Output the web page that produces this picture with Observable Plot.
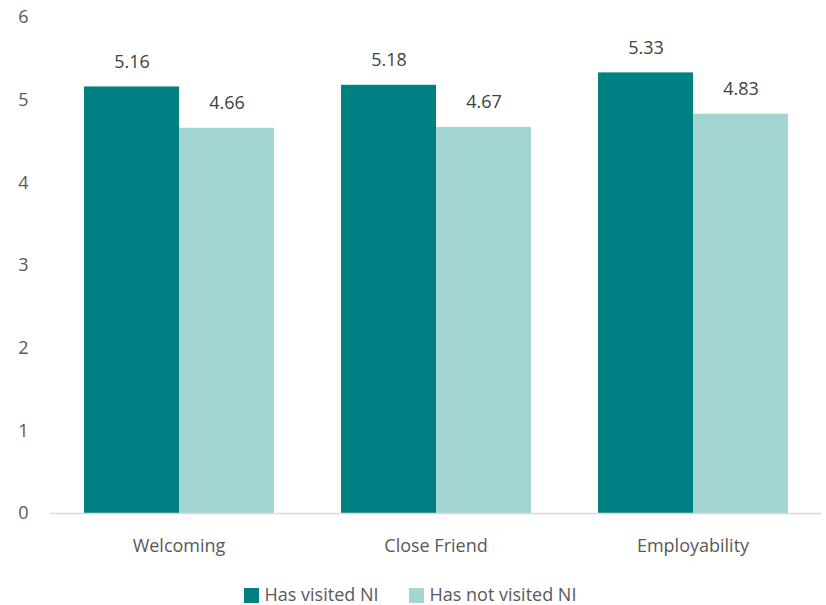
<!DOCTYPE html>
<html>
<head>
<meta charset="utf-8">
<script src="https://cdn.jsdelivr.net/npm/d3@7"></script>
<script src="https://cdn.jsdelivr.net/npm/@observablehq/plot@0.6"></script>
<style>
  html, body { margin: 0; background: #fff; font-family: "Open Sans", sans-serif; overflow: hidden; }
  #chart svg { display: block; }
  .legend { display: flex; justify-content: center; gap: 30px; font-size: 18px; line-height: 20px; color: #595959; height: 20px; align-items: center; margin-left: -6px; margin-top: 6px; }
  .legend span.sw { display: inline-block; width: 15px; height: 15px; margin-right: 6px; vertical-align: -2px; }
</style>
</head>
<body>
<div id="chart"></div>
<div class="legend">
  <div><span class="sw" style="background:#008080"></span>Has visited NI</div>
  <div><span class="sw" style="background:#a3d5d3"></span>Has not visited NI</div>
</div>
<script>
const categories = ["Welcoming", "Close Friend", "Employability"];
const seriesNames = ["Has visited NI", "Has not visited NI"];
const visited = [5.16, 5.18, 5.33];
const notVisited = [4.66, 4.67, 4.83];
const yTicks = [0, 1, 2, 3, 4, 5, 6];
const colors = ["#008080", "#a3d5d3"];

const data = [];
categories.forEach((c, i) => {
  data.push({category: c, series: seriesNames[0], value: visited[i]});
  data.push({category: c, series: seriesNames[1], value: notVisited[i]});
});

const chart = Plot.plot({
  width: 826,
  height: 578,
  marginTop: 17,
  marginBottom: 65,
  marginLeft: 49,
  marginRight: 5,
  style: {fontFamily: "Open Sans, sans-serif", color: "#595959", background: "#fff", fontSize: "18px"},
  fx: {domain: categories, padding: 0, axis: "bottom", label: null, tickSize: 0, tickPadding: 26},
  x: {domain: seriesNames, axis: null, paddingInner: 0, paddingOuter: 0.345},
  y: {domain: [0, 6], ticks: yTicks, label: null, tickSize: 0, tickPadding: 22, tickFormat: d => String(d)},
  color: {domain: seriesNames, range: colors},
  marks: [
    Plot.barY(data, {fx: "category", x: "series", y: "value", fill: "series"}),
    Plot.ruleY([0], {stroke: "#d9d9d9", strokeWidth: 1.5}),
    Plot.text(data, {fx: "category", x: "series", y: "value", text: d => d.value.toFixed(2), dy: -25, fontSize: 18, fill: "#404040"})
  ]
});
chart.querySelectorAll("g[aria-label*='axis']").forEach(e => e.setAttribute("font-size", 18));
document.getElementById("chart").appendChild(chart);
</script>
</body>
</html>
